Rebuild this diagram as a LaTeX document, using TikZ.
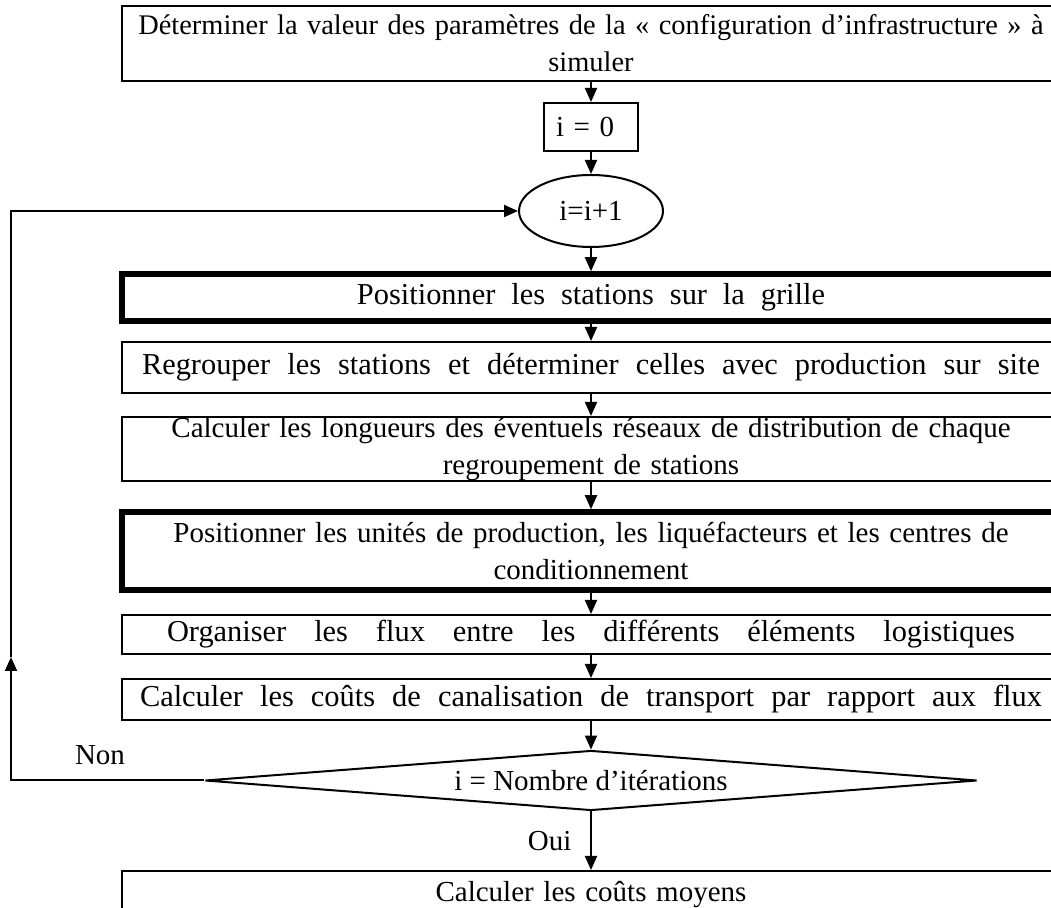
\documentclass[tikz,border=0pt]{standalone}
\usepackage{fontspec}
\setmainfont{Liberation Serif}
\usetikzlibrary{arrows.meta, positioning, shapes.geometric}

% ligne etiree sur une largeur donnee
\newcommand{\etaler}[2]{\makebox[#1][s]{\spaceskip=.3333em plus 1em\relax #2}}

\begin{document}
\begin{tikzpicture} [x = 0.5pt, y = -0.5pt, font = \fontsize{14.5}{18.5}\selectfont,
    etape/.style = {draw, line width = 1pt, inner sep = 0pt, minimum width = 469pt, text width = 469pt, align = center},
    etapeforte/.style = {etape, line width = 2.75pt},
    texteample/.style = {font = \fontsize{15.2}{18.5}\selectfont},
    fleche/.style = {-{Triangle[length = 7pt, width = 6pt]}, line width = 1pt}]
    \clip (0,0) rectangle (1051,908);

    \node (det) [etape, minimum height = 37.5pt, font = \fontsize{14.2}{18.5}\selectfont] at (591,43.5) {Déterminer la valeur des paramètres de la « configuration d’infrastructure » à\\ simuler};
    \node (init) [draw, line width = 1pt, inner sep = 0pt, minimum width = 47pt, minimum height = 24pt, text width = 35pt, align = left] at (591,127) {i = 0};
    \node (incr) [draw, ellipse, line width = 1pt, inner sep = 0pt, minimum width = 72pt, minimum height = 36pt] at (591,211) {i=i+1};
    \node (stat) [etapeforte, texteample, minimum height = 23.5pt] at (591,297.5) {\etaler{234pt}{Positionner les stations sur la grille}};
    \node (regr) [etape, texteample, minimum height = 25.5pt] at (591,367.5) {\etaler{449pt}{Regrouper les stations et déterminer celles avec production sur site}};
    \node (long) [etape, minimum height = 32pt] at (591,449) {Calculer les longueurs des éventuels réseaux de distribution de chaque\\ regroupement de stations};
    \node (unit) [etapeforte, minimum height = 39pt] at (591,551) {Positionner les unités de production, les liquéfacteurs et les centres de\\ conditionnement};
    \node (flux) [etape, texteample, minimum height = 19.5pt] at (591,634.5) {\etaler{424pt}{Organiser les flux entre les différents éléments logistiques}};
    \node (cout) [etape, texteample, minimum height = 20.5pt] at (591,699.5) {\etaler{451pt}{Calculer les coûts de canalisation de transport par rapport aux flux}};
    \node (test) [draw, diamond, line width = 1pt, inner sep = 0pt, aspect = 12.9, minimum width = 386pt, minimum height = 30pt] at (591,780.5) {i = Nombre d’itérations};
    \node (moy) [etape, minimum height = 24pt] at (591,895) {Calculer les coûts moyens};
    \node (non) at (100,755) {Non};
    \coordinate (retour) at (11,657);

    \path [fleche] (det) edge (init);
    \path [fleche] (init) edge (incr);
    \path [fleche] (incr) edge (stat);
    \path [fleche] (stat) edge (regr);
    \path [fleche] (regr) edge (long);
    \path [fleche] (long) edge (unit);
    \path [fleche] (unit) edge (flux);
    \path [fleche] (flux) edge (cout);
    \path [fleche] (cout) edge (test);
    \path [fleche] (test) edge node (oui) [left = 6pt] {Oui} (moy);
    \draw [fleche] (test.west) -| (retour);
    \draw [fleche] (retour) |- (incr.west);
\end{tikzpicture}
\end{document}
